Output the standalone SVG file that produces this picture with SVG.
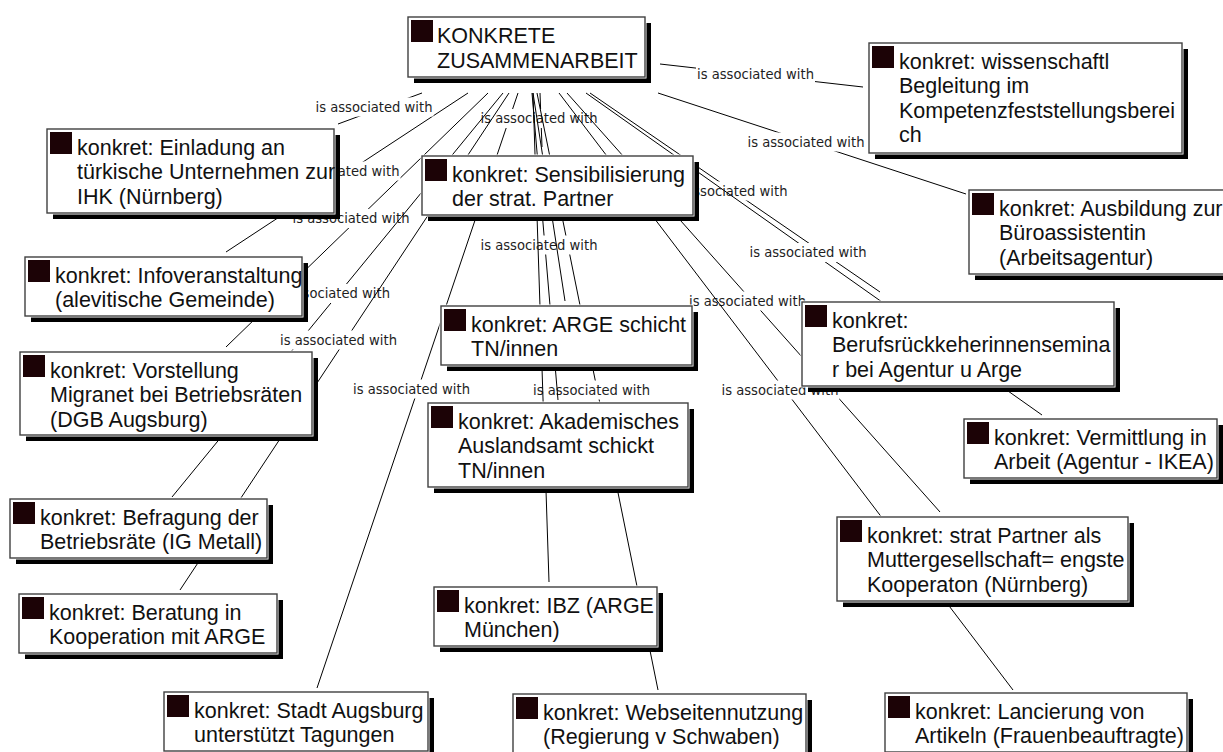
<svg xmlns="http://www.w3.org/2000/svg" width="1223" height="752" viewBox="0 0 1223 752">
<style>
  .page{fill:#fff}
  .edge line{stroke:#000;stroke-width:1}
  .lbg{fill:#fff}
  .lt{font-family:"DejaVu Sans Condensed","DejaVu Sans",sans-serif;font-size:14px;fill:#1e1e1e;text-anchor:middle}
  .sh{fill:#000}
  .halo{fill:#fff}
  .box{fill:#fff;stroke:#404040;stroke-width:1.4}
  .ic{fill:#1c0306}
  .t{font-family:"Liberation Sans",Arial,sans-serif;font-size:21.5px;fill:#111}
</style>
<rect class="page" width="1223" height="752"/>

<!-- association connectors, drawn under the nodes -->
<g id="connectors" class="edge">
  <g id="e-stadt"><line x1="518" y1="93" x2="317" y2="688"/><rect class="lbg" x="352" y="379.5" width="119" height="19"/><text class="lt" x="411.5" y="393.5" textLength="117" lengthAdjust="spacingAndGlyphs">is associated with</text></g>
  <g id="e-sens"><line x1="540" y1="93" x2="542" y2="147"/><rect class="lbg" x="479.5" y="109" width="119" height="19"/><text class="lt" x="539" y="123" textLength="117" lengthAdjust="spacingAndGlyphs">is associated with</text></g>
  <g id="e-vorst"><line x1="488" y1="93" x2="226" y2="347"/><rect class="lbg" x="291.5" y="209" width="119" height="19"/><text class="lt" x="351" y="223" textLength="117" lengthAdjust="spacingAndGlyphs">is associated with</text></g>
  <g id="e-befr"><line x1="503" y1="93" x2="172" y2="497"/><rect class="lbg" x="272" y="284" width="119" height="19"/><text class="lt" x="331.5" y="298" textLength="117" lengthAdjust="spacingAndGlyphs">is associated with</text></g>
  <g id="e-berat"><line x1="509" y1="93" x2="180" y2="590"/><rect class="lbg" x="279" y="330.5" width="119" height="19"/><text class="lt" x="338.5" y="344.5" textLength="117" lengthAdjust="spacingAndGlyphs">is associated with</text></g>
  <g id="e-info"><line x1="468" y1="93" x2="226" y2="252"/><rect class="lbg" x="281.5" y="161.5" width="119" height="19"/><text class="lt" x="341" y="175.5" textLength="117" lengthAdjust="spacingAndGlyphs">is associated with</text></g>
  <g id="e-einl"><line x1="422" y1="93" x2="338" y2="124"/><rect class="lbg" x="314.5" y="97.5" width="119" height="19"/><text class="lt" x="374" y="111.5" textLength="117" lengthAdjust="spacingAndGlyphs">is associated with</text></g>
  <g id="e-web"><line x1="537" y1="93" x2="658" y2="690"/><rect class="lbg" x="532" y="380.5" width="119" height="19"/><text class="lt" x="591.5" y="394.5" textLength="117" lengthAdjust="spacingAndGlyphs">is associated with</text></g>
  <g id="e-akad"><line x1="532" y1="93" x2="558" y2="400"/><rect class="lbg" x="479.5" y="235.5" width="119" height="19"/><text class="lt" x="539" y="249.5" textLength="117" lengthAdjust="spacingAndGlyphs">is associated with</text></g>
  <!-- these two run behind the ARGE and Sensibilisierung boxes, so their labels stay covered -->
  <g id="e-ibz"><line x1="533" y1="93" x2="549" y2="582"/></g>
  <g id="e-arge"><line x1="533" y1="93" x2="565" y2="301"/></g>
  <g id="e-wiss"><line x1="660" y1="64" x2="863" y2="87"/><rect class="lbg" x="696" y="64.5" width="119" height="19"/><text class="lt" x="755.5" y="78.5" textLength="117" lengthAdjust="spacingAndGlyphs">is associated with</text></g>
  <g id="e-ausb"><line x1="658" y1="93" x2="966" y2="194"/><rect class="lbg" x="746.5" y="132.5" width="119" height="19"/><text class="lt" x="806" y="146.5" textLength="117" lengthAdjust="spacingAndGlyphs">is associated with</text></g>
  <g id="e-beruf"><line x1="590" y1="93" x2="880" y2="292"/><rect class="lbg" x="669.5" y="181.5" width="119" height="19"/><text class="lt" x="729" y="195.5" textLength="117" lengthAdjust="spacingAndGlyphs">is associated with</text></g>
  <g id="e-verm"><line x1="586" y1="93" x2="1042" y2="415"/><rect class="lbg" x="748.5" y="243" width="119" height="19"/><text class="lt" x="808" y="257" textLength="117" lengthAdjust="spacingAndGlyphs">is associated with</text></g>
  <g id="e-mutter"><line x1="567" y1="93" x2="940" y2="512"/><rect class="lbg" x="688" y="291.5" width="119" height="19"/><text class="lt" x="747.5" y="305.5" textLength="117" lengthAdjust="spacingAndGlyphs">is associated with</text></g>
  <g id="e-lanc"><line x1="559" y1="93" x2="1013" y2="690"/><rect class="lbg" x="720.5" y="380.5" width="119" height="19"/><text class="lt" x="780" y="394.5" textLength="117" lengthAdjust="spacingAndGlyphs">is associated with</text></g>
</g>

<!-- topic nodes: shadow, white halo, framed box, marker square, label -->
<g id="n-konkrete" transform="translate(408,17)">
  <rect class="sh" x="6" y="6" width="237" height="60"/><rect class="halo" x="-1.5" y="-1.5" width="240" height="63"/><rect class="box" width="237" height="60"/><rect class="ic" x="3" y="3" width="22" height="22"/>
  <text class="t"><tspan x="29" y="26">KONKRETE</tspan><tspan x="29" y="51">ZUSAMMENARBEIT</tspan></text>
</g>
<g id="n-wiss" transform="translate(869,43)">
  <rect class="sh" x="6" y="6" width="313" height="110"/><rect class="halo" x="-1.5" y="-1.5" width="316" height="113"/><rect class="box" width="313" height="110"/><rect class="ic" x="3" y="3" width="22" height="22"/>
  <text class="t"><tspan x="30" y="25.5">konkret: wissenschaftl</tspan><tspan x="30" y="50">Begleitung im</tspan><tspan x="30" y="74.5">Kompetenzfeststellungsberei</tspan><tspan x="30" y="99">ch</tspan></text>
</g>
<g id="n-einl" transform="translate(47,129)">
  <rect class="sh" x="6" y="6" width="287" height="84"/><rect class="halo" x="-1.5" y="-1.5" width="290" height="87"/><rect class="box" width="287" height="84"/><rect class="ic" x="3" y="3" width="22" height="22"/>
  <text class="t"><tspan x="30" y="25.5">konkret: Einladung an</tspan><tspan x="30" y="50">türkische Unternehmen zur</tspan><tspan x="30" y="74.5">IHK (Nürnberg)</tspan></text>
</g>
<g id="n-sens" transform="translate(422,156)">
  <rect class="sh" x="6" y="6" width="271" height="59"/><rect class="halo" x="-1.5" y="-1.5" width="274" height="62"/><rect class="box" width="271" height="59"/><rect class="ic" x="3" y="3" width="22" height="22"/>
  <text class="t"><tspan x="30" y="25.5">konkret: Sensibilisierung</tspan><tspan x="30" y="50">der strat. Partner</tspan></text>
</g>
<g id="n-ausb" transform="translate(969,190)">
  <rect class="sh" x="6" y="6" width="262" height="84"/><rect class="halo" x="-1.5" y="-1.5" width="265" height="87"/><rect class="box" width="262" height="84"/><rect class="ic" x="3" y="3" width="22" height="22"/>
  <text class="t"><tspan x="30" y="25.5">konkret: Ausbildung zur</tspan><tspan x="30" y="50">Büroassistentin</tspan><tspan x="30" y="74.5">(Arbeitsagentur)</tspan></text>
</g>
<g id="n-info" transform="translate(25,257)">
  <rect class="sh" x="6" y="6" width="277" height="59"/><rect class="halo" x="-1.5" y="-1.5" width="280" height="62"/><rect class="box" width="277" height="59"/><rect class="ic" x="3" y="3" width="22" height="22"/>
  <text class="t"><tspan x="30" y="25.5">konkret: Infoveranstaltung</tspan><tspan x="30" y="50">(alevitische Gemeinde)</tspan></text>
</g>
<g id="n-arge" transform="translate(441,306)">
  <rect class="sh" x="6" y="6" width="251" height="59"/><rect class="halo" x="-1.5" y="-1.5" width="254" height="62"/><rect class="box" width="251" height="59"/><rect class="ic" x="3" y="3" width="22" height="22"/>
  <text class="t"><tspan x="30" y="25.5">konkret: ARGE schicht</tspan><tspan x="30" y="50">TN/innen</tspan></text>
</g>
<g id="n-beruf" transform="translate(802,302)">
  <rect class="sh" x="6" y="6" width="312" height="84"/><rect class="halo" x="-1.5" y="-1.5" width="315" height="87"/><rect class="box" width="312" height="84"/><rect class="ic" x="3" y="3" width="22" height="22"/>
  <text class="t"><tspan x="30" y="25.5">konkret:</tspan><tspan x="30" y="50">Berufsrückkeherinnensemina</tspan><tspan x="30" y="74.5">r bei Agentur u Arge</tspan></text>
</g>
<g id="n-vorst" transform="translate(20,352)">
  <rect class="sh" x="6" y="6" width="292" height="83"/><rect class="halo" x="-1.5" y="-1.5" width="295" height="86"/><rect class="box" width="292" height="83"/><rect class="ic" x="3" y="3" width="22" height="22"/>
  <text class="t"><tspan x="30" y="25.5">konkret: Vorstellung</tspan><tspan x="30" y="50">Migranet bei Betriebsräten</tspan><tspan x="30" y="74.5">(DGB Augsburg)</tspan></text>
</g>
<g id="n-akad" transform="translate(428,403)">
  <rect class="sh" x="6" y="6" width="260" height="84"/><rect class="halo" x="-1.5" y="-1.5" width="263" height="87"/><rect class="box" width="260" height="84"/><rect class="ic" x="3" y="3" width="22" height="22"/>
  <text class="t"><tspan x="30" y="25.5">konkret: Akademisches</tspan><tspan x="30" y="50">Auslandsamt schickt</tspan><tspan x="30" y="74.5">TN/innen</tspan></text>
</g>
<g id="n-verm" transform="translate(964,419)">
  <rect class="sh" x="6" y="6" width="253" height="59"/><rect class="halo" x="-1.5" y="-1.5" width="256" height="62"/><rect class="box" width="253" height="59"/><rect class="ic" x="3" y="3" width="22" height="22"/>
  <text class="t"><tspan x="30" y="25.5">konkret: Vermittlung in</tspan><tspan x="30" y="50">Arbeit (Agentur - IKEA)</tspan></text>
</g>
<g id="n-befr" transform="translate(10,499)">
  <rect class="sh" x="6" y="6" width="257" height="59"/><rect class="halo" x="-1.5" y="-1.5" width="260" height="62"/><rect class="box" width="257" height="59"/><rect class="ic" x="3" y="3" width="22" height="22"/>
  <text class="t"><tspan x="30" y="25.5">konkret: Befragung der</tspan><tspan x="30" y="50">Betriebsräte (IG Metall)</tspan></text>
</g>
<g id="n-mutter" transform="translate(837,517)">
  <rect class="sh" x="6" y="6" width="291" height="84"/><rect class="halo" x="-1.5" y="-1.5" width="294" height="87"/><rect class="box" width="291" height="84"/><rect class="ic" x="3" y="3" width="22" height="22"/>
  <text class="t"><tspan x="30" y="25.5">konkret: strat Partner als</tspan><tspan x="30" y="50">Muttergesellschaft= engste</tspan><tspan x="30" y="74.5">Kooperaton (Nürnberg)</tspan></text>
</g>
<g id="n-berat" transform="translate(19,594)">
  <rect class="sh" x="6" y="6" width="258" height="59"/><rect class="halo" x="-1.5" y="-1.5" width="261" height="62"/><rect class="box" width="258" height="59"/><rect class="ic" x="3" y="3" width="22" height="22"/>
  <text class="t"><tspan x="30" y="25.5">konkret: Beratung in</tspan><tspan x="30" y="50">Kooperation mit ARGE</tspan></text>
</g>
<g id="n-ibz" transform="translate(434,587)">
  <rect class="sh" x="6" y="6" width="223" height="59"/><rect class="halo" x="-1.5" y="-1.5" width="226" height="62"/><rect class="box" width="223" height="59"/><rect class="ic" x="3" y="3" width="22" height="22"/>
  <text class="t"><tspan x="30" y="25.5">konkret: IBZ (ARGE</tspan><tspan x="30" y="50">München)</tspan></text>
</g>
<g id="n-stadt" transform="translate(164,692)">
  <rect class="sh" x="6" y="6" width="264" height="59"/><rect class="halo" x="-1.5" y="-1.5" width="267" height="62"/><rect class="box" width="264" height="59"/><rect class="ic" x="3" y="3" width="22" height="22"/>
  <text class="t"><tspan x="30" y="25.5">konkret: Stadt Augsburg</tspan><tspan x="30" y="50">unterstützt Tagungen</tspan></text>
</g>
<g id="n-web" transform="translate(513,694)">
  <rect class="sh" x="6" y="6" width="293" height="59"/><rect class="halo" x="-1.5" y="-1.5" width="296" height="62"/><rect class="box" width="293" height="59"/><rect class="ic" x="3" y="3" width="22" height="22"/>
  <text class="t"><tspan x="30" y="25.5">konkret: Webseitennutzung</tspan><tspan x="30" y="50">(Regierung v Schwaben)</tspan></text>
</g>
<g id="n-lanc" transform="translate(885,693)">
  <rect class="sh" x="6" y="6" width="302" height="59"/><rect class="halo" x="-1.5" y="-1.5" width="305" height="62"/><rect class="box" width="302" height="59"/><rect class="ic" x="3" y="3" width="22" height="22"/>
  <text class="t"><tspan x="30" y="25.5">konkret: Lancierung von</tspan><tspan x="30" y="50">Artikeln (Frauenbeauftragte)</tspan></text>
</g>
</svg>
